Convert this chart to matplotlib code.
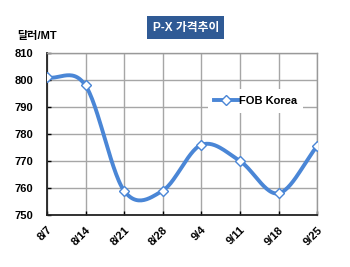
import numpy as np
import matplotlib.pyplot as plt

plt.rcParams['font.family'] = ['Liberation Sans', 'Noto Sans CJK KR', 'DejaVu Sans']

dates = ['8/7', '8/14', '8/21', '8/28', '9/4', '9/11', '9/18', '9/25']
fob_korea = [801, 798, 759, 759, 776, 770, 758, 775.5]

line_color = '#4A86D6'


def smooth(x, y, n=30):
    # Catmull-Rom style smoothing, like Excel's smoothed line
    x = np.asarray(x, float)
    y = np.asarray(y, float)
    px = np.concatenate([[2 * x[0] - x[1]], x, [2 * x[-1] - x[-2]]])
    py = np.concatenate([[2 * y[0] - y[1]], y, [2 * y[-1] - y[-2]]])
    xs, ys = [], []
    t = np.linspace(0, 1, n)
    for i in range(1, len(px) - 2):
        for p, out in ((px, xs), (py, ys)):
            p0, p1, p2, p3 = p[i - 1], p[i], p[i + 1], p[i + 2]
            out.append(0.5 * (2 * p1 + (-p0 + p2) * t
                              + (2 * p0 - 5 * p1 + 4 * p2 - p3) * t ** 2
                              + (-p0 + 3 * p1 - 3 * p2 + p3) * t ** 3))
    return np.concatenate(xs), np.concatenate(ys)


fig = plt.figure(figsize=(3.5, 2.67), dpi=100)
ax = fig.add_axes([0.134, 0.195, 0.772, 0.606])

xi = np.arange(len(dates))
sx, sy = smooth(xi, fob_korea)
ax.plot(sx, sy, color=line_color, lw=2.8, solid_capstyle='round', zorder=3)
ax.plot(xi, fob_korea, ls='none', marker='D', ms=5, mfc='white',
        mec=line_color, mew=1.0, zorder=4)
ax.plot([], [], color=line_color, lw=2.8, marker='D', ms=5, mfc='white',
        mec=line_color, mew=1.0, label='FOB Korea')

ax.set_xlim(0, 7)
ax.set_ylim(750, 810)
ax.set_xticks(xi)
ax.set_xticklabels(dates, rotation=45, ha='right', rotation_mode='anchor',
                   fontsize=8, fontweight='bold')
ax.set_yticks(np.arange(750, 811, 10))
ax.set_yticklabels([str(v) for v in range(750, 811, 10)],
                   fontsize=8, fontweight='bold')
ax.tick_params(axis='both', direction='in', length=3, width=1)
ax.tick_params(axis='y', pad=10)
ax.tick_params(axis='x', pad=7)
ax.grid(True, color='#a6a6a6', lw=1)
ax.set_axisbelow(True)
for side in ('left', 'bottom'):
    ax.spines[side].set_color('#222222')
    ax.spines[side].set_linewidth(1.3)
for side in ('top', 'right'):
    ax.spines[side].set_color('#999999')
    ax.spines[side].set_linewidth(1.0)

leg = ax.legend(loc='upper right', bbox_to_anchor=(0.97, 0.81), frameon=True,
                prop={'weight': 'bold', 'size': 8}, handlelength=2.2,
                handletextpad=0.0, borderpad=0.6)
leg.get_frame().set_edgecolor('none')
leg.get_frame().set_facecolor('white')
leg.get_frame().set_alpha(1)

fig.text(0.531, 0.897, 'P-X 가격추이', ha='center', va='center', color='white',
         fontsize=8.5, fontweight='bold',
         bbox=dict(boxstyle='square,pad=0.45', fc='#2F5A95', ec='none'))
fig.text(0.05, 0.865, '달러/MT', ha='left', va='center', fontsize=8,
         fontweight='bold')

fig.savefig('out.png', dpi=100)
